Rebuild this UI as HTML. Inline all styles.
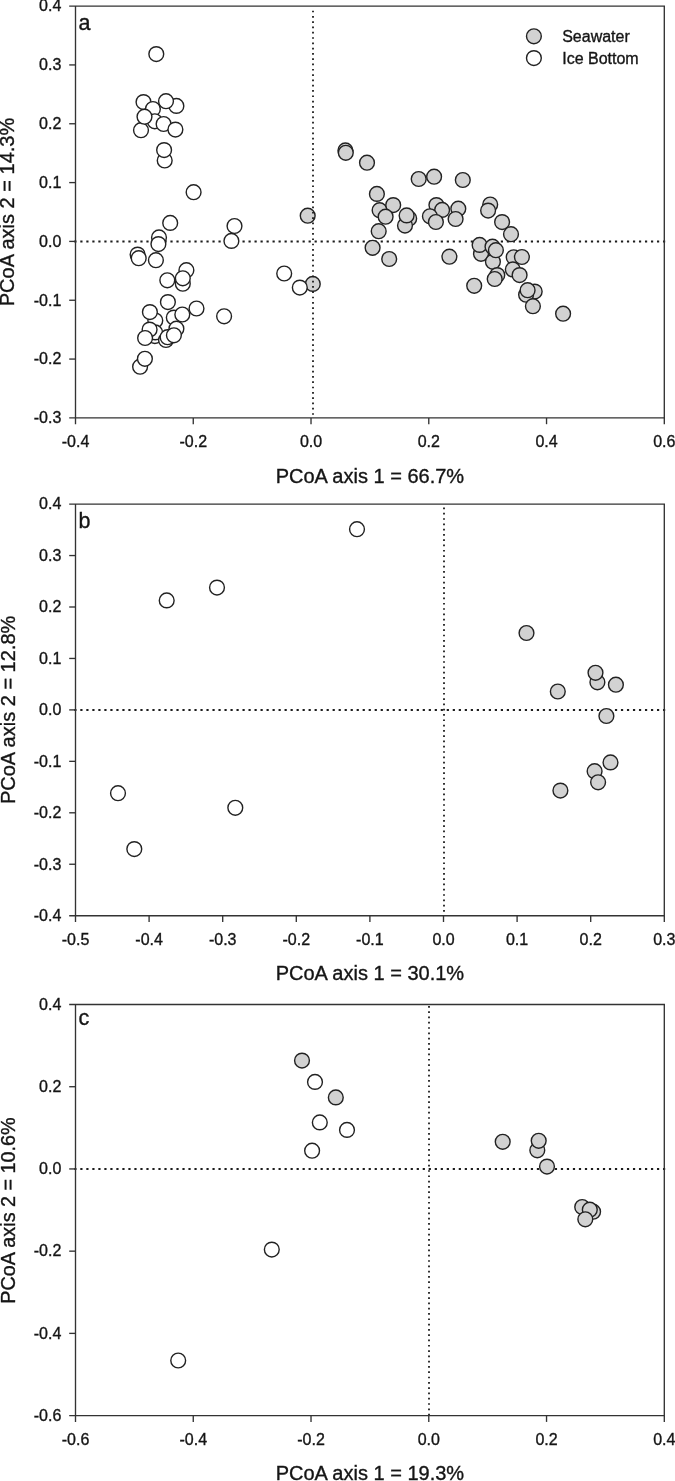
<!DOCTYPE html><html><head><meta charset="utf-8"><title>PCoA</title><style>html,body{margin:0;padding:0;background:#fff}svg{display:block;will-change:transform}text{font-family:"Liberation Sans",sans-serif;fill:#151515;stroke:#151515;stroke-width:0.35px}</style></head><body>
<svg width="675" height="1481" viewBox="0 0 675 1481">
<rect width="675" height="1481" fill="#fff"/>
<line x1="74.3" y1="241.41" x2="665.3" y2="241.41" stroke="#1c1c1c" stroke-width="2.05" stroke-dasharray="2.2 3.807"/>
<circle cx="156.3" cy="54.1" r="7.4" fill="#fff" stroke="#222" stroke-width="1.4"/>
<circle cx="143.5" cy="102.1" r="7.4" fill="#fff" stroke="#222" stroke-width="1.4"/>
<circle cx="176.4" cy="105.9" r="7.4" fill="#fff" stroke="#222" stroke-width="1.4"/>
<circle cx="152.9" cy="109.0" r="7.4" fill="#fff" stroke="#222" stroke-width="1.4"/>
<circle cx="166.0" cy="101.2" r="7.4" fill="#fff" stroke="#222" stroke-width="1.4"/>
<circle cx="154.8" cy="121.3" r="7.4" fill="#fff" stroke="#222" stroke-width="1.4"/>
<circle cx="141.0" cy="130.2" r="7.4" fill="#fff" stroke="#222" stroke-width="1.4"/>
<circle cx="144.5" cy="116.7" r="7.4" fill="#fff" stroke="#222" stroke-width="1.4"/>
<circle cx="163.6" cy="124.0" r="7.4" fill="#fff" stroke="#222" stroke-width="1.4"/>
<circle cx="175.4" cy="129.6" r="7.4" fill="#fff" stroke="#222" stroke-width="1.4"/>
<circle cx="164.7" cy="160.5" r="7.4" fill="#fff" stroke="#222" stroke-width="1.4"/>
<circle cx="164.1" cy="150.1" r="7.4" fill="#fff" stroke="#222" stroke-width="1.4"/>
<circle cx="193.6" cy="192.2" r="7.4" fill="#fff" stroke="#222" stroke-width="1.4"/>
<circle cx="170.2" cy="222.9" r="7.4" fill="#fff" stroke="#222" stroke-width="1.4"/>
<circle cx="234.5" cy="226.0" r="7.4" fill="#fff" stroke="#222" stroke-width="1.4"/>
<circle cx="231.4" cy="240.9" r="7.4" fill="#fff" stroke="#222" stroke-width="1.4"/>
<circle cx="159.0" cy="237.4" r="7.4" fill="#fff" stroke="#222" stroke-width="1.4"/>
<circle cx="158.4" cy="244.1" r="7.4" fill="#fff" stroke="#222" stroke-width="1.4"/>
<circle cx="137.6" cy="254.6" r="7.4" fill="#fff" stroke="#222" stroke-width="1.4"/>
<circle cx="138.7" cy="258.2" r="7.4" fill="#fff" stroke="#222" stroke-width="1.4"/>
<circle cx="155.9" cy="260.2" r="7.4" fill="#fff" stroke="#222" stroke-width="1.4"/>
<circle cx="186.4" cy="270.2" r="7.4" fill="#fff" stroke="#222" stroke-width="1.4"/>
<circle cx="182.8" cy="283.7" r="7.4" fill="#fff" stroke="#222" stroke-width="1.4"/>
<circle cx="182.8" cy="278.3" r="7.4" fill="#fff" stroke="#222" stroke-width="1.4"/>
<circle cx="167.3" cy="280.3" r="7.4" fill="#fff" stroke="#222" stroke-width="1.4"/>
<circle cx="167.9" cy="302.1" r="7.4" fill="#fff" stroke="#222" stroke-width="1.4"/>
<circle cx="196.5" cy="308.5" r="7.4" fill="#fff" stroke="#222" stroke-width="1.4"/>
<circle cx="224.1" cy="316.3" r="7.4" fill="#fff" stroke="#222" stroke-width="1.4"/>
<circle cx="155.3" cy="320.5" r="7.4" fill="#fff" stroke="#222" stroke-width="1.4"/>
<circle cx="149.9" cy="312.1" r="7.4" fill="#fff" stroke="#222" stroke-width="1.4"/>
<circle cx="154.9" cy="336.1" r="7.4" fill="#fff" stroke="#222" stroke-width="1.4"/>
<circle cx="155.2" cy="332.4" r="7.4" fill="#fff" stroke="#222" stroke-width="1.4"/>
<circle cx="149.6" cy="329.6" r="7.4" fill="#fff" stroke="#222" stroke-width="1.4"/>
<circle cx="145.1" cy="338.0" r="7.4" fill="#fff" stroke="#222" stroke-width="1.4"/>
<circle cx="173.8" cy="317.6" r="7.4" fill="#fff" stroke="#222" stroke-width="1.4"/>
<circle cx="176.4" cy="328.7" r="7.4" fill="#fff" stroke="#222" stroke-width="1.4"/>
<circle cx="182.3" cy="314.5" r="7.4" fill="#fff" stroke="#222" stroke-width="1.4"/>
<circle cx="166.0" cy="340.0" r="7.4" fill="#fff" stroke="#222" stroke-width="1.4"/>
<circle cx="167.6" cy="337.2" r="7.4" fill="#fff" stroke="#222" stroke-width="1.4"/>
<circle cx="173.9" cy="335.3" r="7.4" fill="#fff" stroke="#222" stroke-width="1.4"/>
<circle cx="140.1" cy="366.7" r="7.4" fill="#fff" stroke="#222" stroke-width="1.4"/>
<circle cx="144.9" cy="358.8" r="7.4" fill="#fff" stroke="#222" stroke-width="1.4"/>
<circle cx="307.7" cy="215.7" r="7.4" fill="#d2d2d2" stroke="#222" stroke-width="1.4"/>
<circle cx="284.2" cy="273.5" r="7.4" fill="#fff" stroke="#222" stroke-width="1.4"/>
<circle cx="312.8" cy="283.9" r="7.4" fill="#d2d2d2" stroke="#222" stroke-width="1.4"/>
<circle cx="299.8" cy="287.6" r="7.4" fill="#fff" stroke="#222" stroke-width="1.4"/>
<circle cx="345.4" cy="150.4" r="7.4" fill="#d2d2d2" stroke="#222" stroke-width="1.4"/>
<circle cx="345.8" cy="152.8" r="7.4" fill="#d2d2d2" stroke="#222" stroke-width="1.4"/>
<circle cx="367.0" cy="162.7" r="7.4" fill="#d2d2d2" stroke="#222" stroke-width="1.4"/>
<circle cx="376.9" cy="193.9" r="7.4" fill="#d2d2d2" stroke="#222" stroke-width="1.4"/>
<circle cx="379.6" cy="210.2" r="7.4" fill="#d2d2d2" stroke="#222" stroke-width="1.4"/>
<circle cx="393.2" cy="205.1" r="7.4" fill="#d2d2d2" stroke="#222" stroke-width="1.4"/>
<circle cx="385.6" cy="216.7" r="7.4" fill="#d2d2d2" stroke="#222" stroke-width="1.4"/>
<circle cx="378.7" cy="231.2" r="7.4" fill="#d2d2d2" stroke="#222" stroke-width="1.4"/>
<circle cx="372.6" cy="247.8" r="7.4" fill="#d2d2d2" stroke="#222" stroke-width="1.4"/>
<circle cx="389.2" cy="259.0" r="7.4" fill="#d2d2d2" stroke="#222" stroke-width="1.4"/>
<circle cx="418.7" cy="179.0" r="7.4" fill="#d2d2d2" stroke="#222" stroke-width="1.4"/>
<circle cx="434.1" cy="176.7" r="7.4" fill="#d2d2d2" stroke="#222" stroke-width="1.4"/>
<circle cx="462.8" cy="180.0" r="7.4" fill="#d2d2d2" stroke="#222" stroke-width="1.4"/>
<circle cx="409.2" cy="218.4" r="7.4" fill="#d2d2d2" stroke="#222" stroke-width="1.4"/>
<circle cx="405.0" cy="225.6" r="7.4" fill="#d2d2d2" stroke="#222" stroke-width="1.4"/>
<circle cx="406.6" cy="215.4" r="7.4" fill="#d2d2d2" stroke="#222" stroke-width="1.4"/>
<circle cx="436.4" cy="205.1" r="7.4" fill="#d2d2d2" stroke="#222" stroke-width="1.4"/>
<circle cx="442.1" cy="209.9" r="7.4" fill="#d2d2d2" stroke="#222" stroke-width="1.4"/>
<circle cx="429.9" cy="216.3" r="7.4" fill="#d2d2d2" stroke="#222" stroke-width="1.4"/>
<circle cx="435.9" cy="222.0" r="7.4" fill="#d2d2d2" stroke="#222" stroke-width="1.4"/>
<circle cx="458.3" cy="208.7" r="7.4" fill="#d2d2d2" stroke="#222" stroke-width="1.4"/>
<circle cx="455.6" cy="219.0" r="7.4" fill="#d2d2d2" stroke="#222" stroke-width="1.4"/>
<circle cx="449.4" cy="256.7" r="7.4" fill="#d2d2d2" stroke="#222" stroke-width="1.4"/>
<circle cx="490.2" cy="204.5" r="7.4" fill="#d2d2d2" stroke="#222" stroke-width="1.4"/>
<circle cx="488.1" cy="210.6" r="7.4" fill="#d2d2d2" stroke="#222" stroke-width="1.4"/>
<circle cx="502.1" cy="222.1" r="7.4" fill="#d2d2d2" stroke="#222" stroke-width="1.4"/>
<circle cx="511.0" cy="234.2" r="7.4" fill="#d2d2d2" stroke="#222" stroke-width="1.4"/>
<circle cx="481.0" cy="253.8" r="7.4" fill="#d2d2d2" stroke="#222" stroke-width="1.4"/>
<circle cx="479.6" cy="244.9" r="7.4" fill="#d2d2d2" stroke="#222" stroke-width="1.4"/>
<circle cx="492.5" cy="246.7" r="7.4" fill="#d2d2d2" stroke="#222" stroke-width="1.4"/>
<circle cx="492.9" cy="261.8" r="7.4" fill="#d2d2d2" stroke="#222" stroke-width="1.4"/>
<circle cx="495.9" cy="250.2" r="7.4" fill="#d2d2d2" stroke="#222" stroke-width="1.4"/>
<circle cx="497.3" cy="275.1" r="7.4" fill="#d2d2d2" stroke="#222" stroke-width="1.4"/>
<circle cx="494.7" cy="279.0" r="7.4" fill="#d2d2d2" stroke="#222" stroke-width="1.4"/>
<circle cx="474.2" cy="285.8" r="7.4" fill="#d2d2d2" stroke="#222" stroke-width="1.4"/>
<circle cx="513.7" cy="257.3" r="7.4" fill="#d2d2d2" stroke="#222" stroke-width="1.4"/>
<circle cx="521.9" cy="257.0" r="7.4" fill="#d2d2d2" stroke="#222" stroke-width="1.4"/>
<circle cx="512.8" cy="269.4" r="7.4" fill="#d2d2d2" stroke="#222" stroke-width="1.4"/>
<circle cx="519.6" cy="275.1" r="7.4" fill="#d2d2d2" stroke="#222" stroke-width="1.4"/>
<circle cx="534.7" cy="291.6" r="7.4" fill="#d2d2d2" stroke="#222" stroke-width="1.4"/>
<circle cx="526.1" cy="294.7" r="7.4" fill="#d2d2d2" stroke="#222" stroke-width="1.4"/>
<circle cx="527.6" cy="290.2" r="7.4" fill="#d2d2d2" stroke="#222" stroke-width="1.4"/>
<circle cx="532.9" cy="306.2" r="7.4" fill="#d2d2d2" stroke="#222" stroke-width="1.4"/>
<circle cx="563.1" cy="313.7" r="7.4" fill="#d2d2d2" stroke="#222" stroke-width="1.4"/>
<line x1="313.0" y1="10.65" x2="313.0" y2="417.9" stroke="#1c1c1c" stroke-width="1.8" stroke-dasharray="1.7 3.596"/>
<path d="M69.2 6.1H664.3V424.2M75.5 6.1V424.2M69.2 417.9H664.3" fill="none" stroke="#333" stroke-width="1.35"/>
<text x="75.50" y="447.10" font-size="16" text-anchor="middle">-0.4</text>
<line x1="193.26" y1="417.9" x2="193.26" y2="424.2" stroke="#333" stroke-width="1.35"/>
<text x="193.26" y="447.10" font-size="16" text-anchor="middle">-0.2</text>
<line x1="311.02" y1="417.9" x2="311.02" y2="424.2" stroke="#333" stroke-width="1.35"/>
<text x="311.02" y="447.10" font-size="16" text-anchor="middle">0.0</text>
<line x1="428.78" y1="417.9" x2="428.78" y2="424.2" stroke="#333" stroke-width="1.35"/>
<text x="428.78" y="447.10" font-size="16" text-anchor="middle">0.2</text>
<line x1="546.54" y1="417.9" x2="546.54" y2="424.2" stroke="#333" stroke-width="1.35"/>
<text x="546.54" y="447.10" font-size="16" text-anchor="middle">0.4</text>
<text x="664.30" y="447.10" font-size="16" text-anchor="middle">0.6</text>
<text x="61.3" y="11.40" font-size="16" text-anchor="end">0.4</text>
<line x1="69.2" y1="64.93" x2="75.5" y2="64.93" stroke="#333" stroke-width="1.35"/>
<text x="61.3" y="70.23" font-size="16" text-anchor="end">0.3</text>
<line x1="69.2" y1="123.76" x2="75.5" y2="123.76" stroke="#333" stroke-width="1.35"/>
<text x="61.3" y="129.06" font-size="16" text-anchor="end">0.2</text>
<line x1="69.2" y1="182.59" x2="75.5" y2="182.59" stroke="#333" stroke-width="1.35"/>
<text x="61.3" y="187.89" font-size="16" text-anchor="end">0.1</text>
<line x1="69.2" y1="241.41" x2="75.5" y2="241.41" stroke="#333" stroke-width="1.35"/>
<text x="61.3" y="246.71" font-size="16" text-anchor="end">0.0</text>
<line x1="69.2" y1="300.24" x2="75.5" y2="300.24" stroke="#333" stroke-width="1.35"/>
<text x="61.3" y="305.54" font-size="16" text-anchor="end">-0.1</text>
<line x1="69.2" y1="359.07" x2="75.5" y2="359.07" stroke="#333" stroke-width="1.35"/>
<text x="61.3" y="364.37" font-size="16" text-anchor="end">-0.2</text>
<text x="61.3" y="423.20" font-size="16" text-anchor="end">-0.3</text>
<text x="369.90" y="482.60" font-size="20" text-anchor="middle">PCoA axis 1 = 66.7%</text>
<text transform="translate(14.4 212.00) rotate(-90)" font-size="20" text-anchor="middle">PCoA axis 2 = 14.3%</text>
<text x="78.5" y="30.40" font-size="21.5">a</text>
<circle cx="533.9" cy="36.3" r="7.4" fill="#d2d2d2" stroke="#222" stroke-width="1.4"/>
<circle cx="533.9" cy="58.1" r="7.4" fill="#fff" stroke="#222" stroke-width="1.4"/>
<text x="562.2" y="42.1" font-size="16">Seawater</text>
<text x="562.2" y="64.2" font-size="16">Ice Bottom</text>
<line x1="74.3" y1="709.90" x2="665.3" y2="709.90" stroke="#1c1c1c" stroke-width="2.05" stroke-dasharray="2.2 3.807"/>
<circle cx="357.0" cy="529.2" r="7.4" fill="#fff" stroke="#222" stroke-width="1.4"/>
<circle cx="217.0" cy="587.6" r="7.4" fill="#fff" stroke="#222" stroke-width="1.4"/>
<circle cx="166.7" cy="600.4" r="7.4" fill="#fff" stroke="#222" stroke-width="1.4"/>
<circle cx="118.0" cy="793.2" r="7.4" fill="#fff" stroke="#222" stroke-width="1.4"/>
<circle cx="235.3" cy="807.8" r="7.4" fill="#fff" stroke="#222" stroke-width="1.4"/>
<circle cx="134.3" cy="849.1" r="7.4" fill="#fff" stroke="#222" stroke-width="1.4"/>
<circle cx="526.5" cy="633.0" r="7.4" fill="#d2d2d2" stroke="#222" stroke-width="1.4"/>
<circle cx="597.4" cy="682.3" r="7.4" fill="#d2d2d2" stroke="#222" stroke-width="1.4"/>
<circle cx="595.5" cy="672.8" r="7.4" fill="#d2d2d2" stroke="#222" stroke-width="1.4"/>
<circle cx="615.9" cy="684.7" r="7.4" fill="#d2d2d2" stroke="#222" stroke-width="1.4"/>
<circle cx="557.8" cy="691.5" r="7.4" fill="#d2d2d2" stroke="#222" stroke-width="1.4"/>
<circle cx="606.4" cy="716.0" r="7.4" fill="#d2d2d2" stroke="#222" stroke-width="1.4"/>
<circle cx="610.5" cy="762.4" r="7.4" fill="#d2d2d2" stroke="#222" stroke-width="1.4"/>
<circle cx="594.6" cy="771.2" r="7.4" fill="#d2d2d2" stroke="#222" stroke-width="1.4"/>
<circle cx="598.1" cy="782.3" r="7.4" fill="#d2d2d2" stroke="#222" stroke-width="1.4"/>
<circle cx="560.4" cy="790.6" r="7.4" fill="#d2d2d2" stroke="#222" stroke-width="1.4"/>
<line x1="444.0" y1="507.55" x2="444.0" y2="915.7" stroke="#1c1c1c" stroke-width="1.8" stroke-dasharray="1.7 3.596"/>
<path d="M69.2 504.1H664.3V922.0M75.5 504.1V922.0M69.2 915.7H664.3" fill="none" stroke="#333" stroke-width="1.35"/>
<text x="75.50" y="944.90" font-size="16" text-anchor="middle">-0.5</text>
<line x1="149.10" y1="915.7" x2="149.10" y2="922.0" stroke="#333" stroke-width="1.35"/>
<text x="149.10" y="944.90" font-size="16" text-anchor="middle">-0.4</text>
<line x1="222.70" y1="915.7" x2="222.70" y2="922.0" stroke="#333" stroke-width="1.35"/>
<text x="222.70" y="944.90" font-size="16" text-anchor="middle">-0.3</text>
<line x1="296.30" y1="915.7" x2="296.30" y2="922.0" stroke="#333" stroke-width="1.35"/>
<text x="296.30" y="944.90" font-size="16" text-anchor="middle">-0.2</text>
<line x1="369.90" y1="915.7" x2="369.90" y2="922.0" stroke="#333" stroke-width="1.35"/>
<text x="369.90" y="944.90" font-size="16" text-anchor="middle">-0.1</text>
<line x1="443.50" y1="915.7" x2="443.50" y2="922.0" stroke="#333" stroke-width="1.35"/>
<text x="443.50" y="944.90" font-size="16" text-anchor="middle">0.0</text>
<line x1="517.10" y1="915.7" x2="517.10" y2="922.0" stroke="#333" stroke-width="1.35"/>
<text x="517.10" y="944.90" font-size="16" text-anchor="middle">0.1</text>
<line x1="590.70" y1="915.7" x2="590.70" y2="922.0" stroke="#333" stroke-width="1.35"/>
<text x="590.70" y="944.90" font-size="16" text-anchor="middle">0.2</text>
<text x="664.30" y="944.90" font-size="16" text-anchor="middle">0.3</text>
<text x="61.3" y="509.40" font-size="16" text-anchor="end">0.4</text>
<line x1="69.2" y1="555.55" x2="75.5" y2="555.55" stroke="#333" stroke-width="1.35"/>
<text x="61.3" y="560.85" font-size="16" text-anchor="end">0.3</text>
<line x1="69.2" y1="607.00" x2="75.5" y2="607.00" stroke="#333" stroke-width="1.35"/>
<text x="61.3" y="612.30" font-size="16" text-anchor="end">0.2</text>
<line x1="69.2" y1="658.45" x2="75.5" y2="658.45" stroke="#333" stroke-width="1.35"/>
<text x="61.3" y="663.75" font-size="16" text-anchor="end">0.1</text>
<line x1="69.2" y1="709.90" x2="75.5" y2="709.90" stroke="#333" stroke-width="1.35"/>
<text x="61.3" y="715.20" font-size="16" text-anchor="end">0.0</text>
<line x1="69.2" y1="761.35" x2="75.5" y2="761.35" stroke="#333" stroke-width="1.35"/>
<text x="61.3" y="766.65" font-size="16" text-anchor="end">-0.1</text>
<line x1="69.2" y1="812.80" x2="75.5" y2="812.80" stroke="#333" stroke-width="1.35"/>
<text x="61.3" y="818.10" font-size="16" text-anchor="end">-0.2</text>
<line x1="69.2" y1="864.25" x2="75.5" y2="864.25" stroke="#333" stroke-width="1.35"/>
<text x="61.3" y="869.55" font-size="16" text-anchor="end">-0.3</text>
<text x="61.3" y="921.00" font-size="16" text-anchor="end">-0.4</text>
<text x="369.90" y="980.40" font-size="20" text-anchor="middle">PCoA axis 1 = 30.1%</text>
<text transform="translate(15.3 709.90) rotate(-90)" font-size="20" text-anchor="middle">PCoA axis 2 = 12.8%</text>
<text x="78.5" y="527.80" font-size="21.5">b</text>
<line x1="74.3" y1="1168.94" x2="665.3" y2="1168.94" stroke="#1c1c1c" stroke-width="2.05" stroke-dasharray="2.2 3.807"/>
<circle cx="302.0" cy="1060.6" r="7.4" fill="#d2d2d2" stroke="#222" stroke-width="1.4"/>
<circle cx="315.0" cy="1081.9" r="7.4" fill="#fff" stroke="#222" stroke-width="1.4"/>
<circle cx="335.8" cy="1097.4" r="7.4" fill="#d2d2d2" stroke="#222" stroke-width="1.4"/>
<circle cx="319.8" cy="1122.4" r="7.4" fill="#fff" stroke="#222" stroke-width="1.4"/>
<circle cx="347.0" cy="1129.9" r="7.4" fill="#fff" stroke="#222" stroke-width="1.4"/>
<circle cx="312.1" cy="1150.7" r="7.4" fill="#fff" stroke="#222" stroke-width="1.4"/>
<circle cx="502.7" cy="1141.8" r="7.4" fill="#d2d2d2" stroke="#222" stroke-width="1.4"/>
<circle cx="537.3" cy="1150.3" r="7.4" fill="#d2d2d2" stroke="#222" stroke-width="1.4"/>
<circle cx="538.7" cy="1140.8" r="7.4" fill="#d2d2d2" stroke="#222" stroke-width="1.4"/>
<circle cx="547.0" cy="1166.6" r="7.4" fill="#d2d2d2" stroke="#222" stroke-width="1.4"/>
<circle cx="582.2" cy="1207.0" r="7.4" fill="#d2d2d2" stroke="#222" stroke-width="1.4"/>
<circle cx="593.1" cy="1211.7" r="7.4" fill="#d2d2d2" stroke="#222" stroke-width="1.4"/>
<circle cx="589.8" cy="1209.7" r="7.4" fill="#d2d2d2" stroke="#222" stroke-width="1.4"/>
<circle cx="585.3" cy="1219.3" r="7.4" fill="#d2d2d2" stroke="#222" stroke-width="1.4"/>
<circle cx="271.8" cy="1249.6" r="7.4" fill="#fff" stroke="#222" stroke-width="1.4"/>
<circle cx="178.2" cy="1360.5" r="7.4" fill="#fff" stroke="#222" stroke-width="1.4"/>
<line x1="429.0" y1="1005.95" x2="429.0" y2="1415.6" stroke="#1c1c1c" stroke-width="1.8" stroke-dasharray="1.7 3.596"/>
<path d="M69.2 1004.5H664.3V1421.8999999999999M75.5 1004.5V1421.8999999999999M69.2 1415.6H664.3" fill="none" stroke="#333" stroke-width="1.35"/>
<text x="75.50" y="1444.80" font-size="16" text-anchor="middle">-0.6</text>
<line x1="193.26" y1="1415.6" x2="193.26" y2="1421.8999999999999" stroke="#333" stroke-width="1.35"/>
<text x="193.26" y="1444.80" font-size="16" text-anchor="middle">-0.4</text>
<line x1="311.02" y1="1415.6" x2="311.02" y2="1421.8999999999999" stroke="#333" stroke-width="1.35"/>
<text x="311.02" y="1444.80" font-size="16" text-anchor="middle">-0.2</text>
<line x1="428.78" y1="1415.6" x2="428.78" y2="1421.8999999999999" stroke="#333" stroke-width="1.35"/>
<text x="428.78" y="1444.80" font-size="16" text-anchor="middle">0.0</text>
<line x1="546.54" y1="1415.6" x2="546.54" y2="1421.8999999999999" stroke="#333" stroke-width="1.35"/>
<text x="546.54" y="1444.80" font-size="16" text-anchor="middle">0.2</text>
<text x="664.30" y="1444.80" font-size="16" text-anchor="middle">0.4</text>
<text x="61.3" y="1009.80" font-size="16" text-anchor="end">0.4</text>
<line x1="69.2" y1="1086.72" x2="75.5" y2="1086.72" stroke="#333" stroke-width="1.35"/>
<text x="61.3" y="1092.02" font-size="16" text-anchor="end">0.2</text>
<line x1="69.2" y1="1168.94" x2="75.5" y2="1168.94" stroke="#333" stroke-width="1.35"/>
<text x="61.3" y="1174.24" font-size="16" text-anchor="end">0.0</text>
<line x1="69.2" y1="1251.16" x2="75.5" y2="1251.16" stroke="#333" stroke-width="1.35"/>
<text x="61.3" y="1256.46" font-size="16" text-anchor="end">-0.2</text>
<line x1="69.2" y1="1333.38" x2="75.5" y2="1333.38" stroke="#333" stroke-width="1.35"/>
<text x="61.3" y="1338.68" font-size="16" text-anchor="end">-0.4</text>
<text x="61.3" y="1420.90" font-size="16" text-anchor="end">-0.6</text>
<text x="369.90" y="1480.30" font-size="20" text-anchor="middle">PCoA axis 1 = 19.3%</text>
<text transform="translate(14.5 1210.55) rotate(-90)" font-size="19.8" text-anchor="middle">PCoA axis 2 = 10.6%</text>
<text x="78.5" y="1025.00" font-size="21.5">c</text>
</svg></body></html>
